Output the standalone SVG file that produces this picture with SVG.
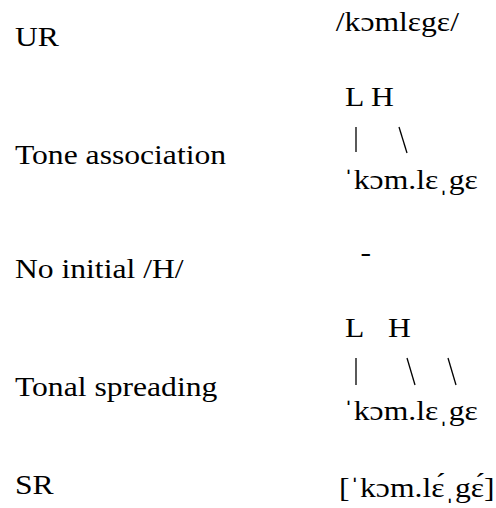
<svg xmlns="http://www.w3.org/2000/svg" width="496" height="508" viewBox="0 0 496 508">
  <rect width="496" height="508" fill="#fff"/>

  <!-- all text is set in a horizontally widened serif -->
  <g transform="scale(1.15,1)" style="font-family: 'Liberation Serif', 'DejaVu Serif', serif; font-size: 27.5px; fill: #000">
    <!-- stage labels -->
    <g id="label-ur"><text x="13" y="46">UR</text></g>
    <g id="label-tone-association"><text x="13" y="164">Tone association</text></g>
    <g id="label-no-initial-h"><text x="13" y="278">No initial /H/</text></g>
    <g id="label-tonal-spreading"><text x="13" y="396">Tonal spreading</text></g>
    <g id="label-sr"><text x="13" y="494">SR</text></g>

    <!-- underlying form -->
    <g id="form-ur"><text x="292" y="31">/kɔmlɛgɛ/</text></g>

    <!-- tone association stage -->
    <g id="tones-1"><text x="300" y="106">L H</text></g>
    <g id="word-1"><text x="298.5" y="189">ˈkɔm.lɛˌgɛ</text></g>

    <!-- no initial H stage -->
    <g id="no-change"><text x="313.5" y="261.5">-</text></g>

    <!-- tonal spreading stage -->
    <g id="tones-2"><text x="300" y="337">L</text><text x="337.4" y="337">H</text></g>
    <g id="word-2"><text x="298.5" y="420">ˈkɔm.lɛˌgɛ</text></g>

    <!-- surface form -->
    <g id="form-sr"><text x="294.8" y="497">[ˈkɔm.lɛ́ˌgɛ́]</text></g>
  </g>

  <!-- association lines -->
  <g id="connectors" stroke="#000" stroke-width="1.3">
    <line x1="356" y1="127" x2="356" y2="152"/>
    <line x1="399" y1="127" x2="407" y2="153"/>
    <line x1="356" y1="358" x2="356" y2="385"/>
    <line x1="407" y1="358" x2="415" y2="385"/>
    <line x1="448" y1="358" x2="456" y2="385"/>
  </g>
</svg>
